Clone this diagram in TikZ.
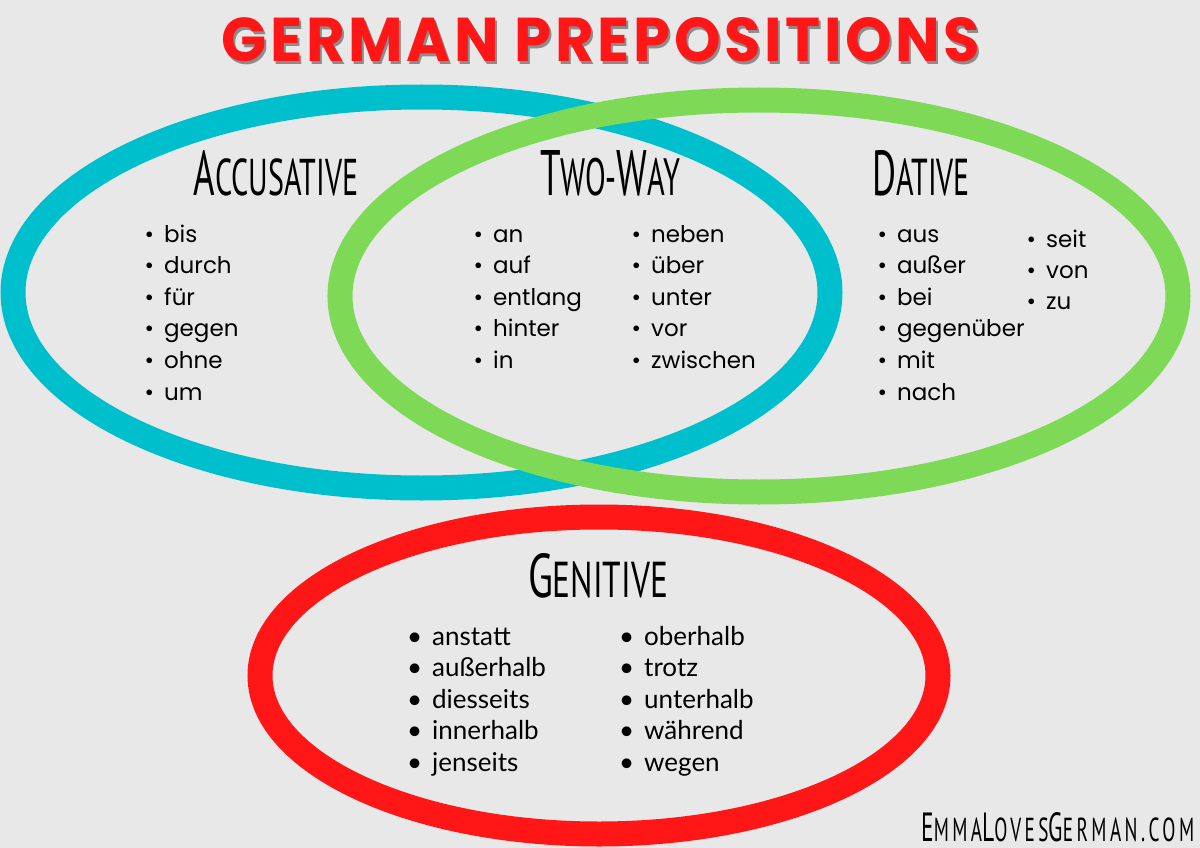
\documentclass[tikz,border=0pt]{standalone}
\usepackage{fontspec}
\usepackage{graphicx}
\setmainfont{Poppins}
\newfontfamily\titlefont{Poppins}[LetterSpace=6]
\newfontfamily\headfont{PT Sans}
\newfontfamily\wmfont{PT Sans}[LetterSpace=18]
\newfontfamily\genfont{Lato}
\definecolor{bg}{RGB}{232,232,232}
\definecolor{ringblue}{RGB}{0,191,204}
\definecolor{ringgreen}{RGB}{126,217,87}
\definecolor{ringred}{RGB}{255,22,22}
\definecolor{shadowgray}{RGB}{140,140,140}
\newcommand\BC[1]{{\fontsize{60}{60}\selectfont #1}}
\tikzset{
  ring/.style={line width=25pt},
  item/.style={anchor=base west, inner sep=0pt, font=\fontsize{23}{23}\selectfont},
  gitem/.style={anchor=base west, inner sep=0pt, font=\genfont\fontsize{26}{26}\selectfont},
  head/.style={anchor=base, inner sep=0pt, font=\headfont\fontsize{49}{49}\selectfont},
}
\newcommand\bul[1]{\llap{•\hspace{10pt}}#1}
\begin{document}
\begin{tikzpicture}[x=1pt,y=1pt]
\useasboundingbox (0,0) rectangle (1200,-848);
\fill[bg] (0,0) rectangle (1200,-848);
% rings
\draw[ring, ringblue] (421.5,-292.5) ellipse [x radius=408.5, y radius=195.5];
\draw[ring, ringgreen] (759,-296) ellipse [x radius=419, y radius=196];
\draw[ring, ringred] (599,-675.5) ellipse [x radius=339, y radius=158.5];
% title
\node[anchor=base, inner sep=0pt, text=shadowgray] (titleshadow) at (603,-65)
  {\resizebox{758pt}{44pt}{\titlefont\bfseries GERMAN PREPOSITIONS}};
\node[anchor=base, inner sep=0pt, text=ringred] (title) at (601,-62)
  {\resizebox{758pt}{44pt}{\titlefont\bfseries GERMAN PREPOSITIONS}};
% headings
\node[head] (hacc) at (276,-195) {\resizebox{165pt}{45pt}{\BC{A}CCUSATIVE}};
\node[head] (htwo) at (610,-195) {\resizebox{140pt}{45pt}{\BC{T}WO-\BC{W}AY}};
\node[head] (hdat) at (921,-195) {\resizebox{98pt}{45pt}{\BC{D}ATIVE}};
\node[head] (hgen) at (598,-597) {\resizebox{140pt}{44pt}{\BC{G}ENITIVE}};
% accusative list
\foreach \w [count=\i from 0] in {bis,durch,für,gegen,ohne,um}
  \node[item] (acc\i) at (164,-242-31.6*\i) {\bul{\w}};
% two-way lists
\foreach \w [count=\i from 0] in {an,auf,entlang,hinter,in}
  \node[item] (twa\i) at (493,-242-31.6*\i) {\bul{\w}};
\foreach \w [count=\i from 0] in {neben,über,unter,vor,zwischen}
  \node[item] (twb\i) at (651,-242-31.6*\i) {\bul{\w}};
% dative lists
\foreach \w [count=\i from 0] in {aus,außer,bei,gegenüber,mit,nach}
  \node[item] (data\i) at (897,-242-31.6*\i) {\bul{\w}};
\foreach \w [count=\i from 0] in {seit,von,zu}
  \node[item] (datb\i) at (1046,-247-31*\i) {\bul{\w}};
% genitive lists
\foreach \w [count=\i from 0] in {anstatt,außerhalb,diesseits,innerhalb,jenseits}
  \node[gitem] (gena\i) at (432,-645-31.5*\i) {\bul{\w}};
\foreach \w [count=\i from 0] in {oberhalb,trotz,unterhalb,während,wegen}
  \node[gitem] (genb\i) at (644,-645-31.5*\i) {\bul{\w}};
% watermark
\node[anchor=base west, inner sep=0pt] (wm) at (921,-841)
  {\resizebox{273pt}{29pt}{\wmfont\fontsize{49}{49}\selectfont\BC{E}MMA\BC{L}OVES\BC{G}ERMAN.COM}};
\end{tikzpicture}
\end{document}
